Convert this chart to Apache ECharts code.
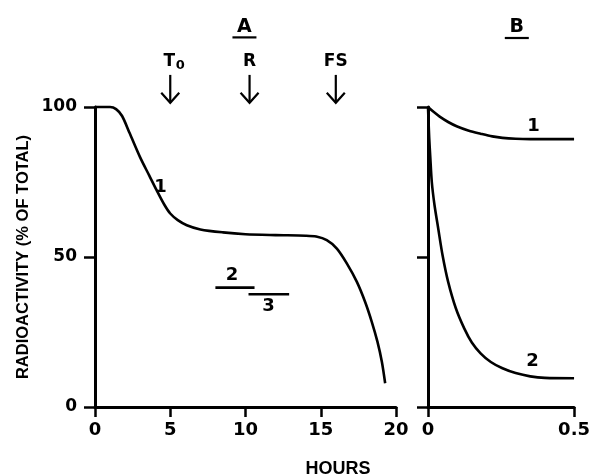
<!DOCTYPE html>
<html><head><meta charset="utf-8">
<script src="https://cdn.jsdelivr.net/npm/echarts@6/dist/echarts.min.js"></script>
<style>html,body{margin:0;padding:0;background:#fff}#c{width:593px;height:476px}</style>
</head><body><div id="c"></div>
<script>
// Panel A, curve 1
const a1Hours  = [0, 1.0, 1.4, 1.8, 2.3, 3.0, 3.6, 4.1, 4.6, 5.0, 5.5, 6.1, 7.0, 8.5, 10, 12, 14.0, 14.7, 15.4, 16.07, 16.74, 17.4, 17.95, 18.39, 18.77, 19.06, 19.28];
const a1Values = [100, 100, 99.3, 97, 91.3, 83.2, 77.2, 72.2, 67.5, 64.5, 62.3, 60.6, 59.2, 58.2, 57.6, 57.3, 57.1, 56.8, 55.6, 52.8, 47.8, 41.7, 35.0, 28.4, 21.7, 15.1, 7.9];
// Panel A, short bars 2 and 3
const a2Hours = [8.0, 10.6];
const a2Values = [39.8, 39.8];
const a3Hours = [10.2, 12.9];
const a3Values = [37.6, 37.6];
// Panel B, curves 1 and 2
const b1Hours  = [0, 0.02, 0.04, 0.069, 0.1, 0.14, 0.18, 0.22, 0.255, 0.3, 0.35, 0.5];
const b1Values = [100, 98.3, 96.8, 95.0, 93.5, 92.1, 91.1, 90.2, 89.7, 89.4, 89.3, 89.3];
const b2Hours  = [0, 0.004, 0.008, 0.013, 0.022, 0.035, 0.05, 0.069, 0.095, 0.124, 0.15, 0.18, 0.215, 0.255, 0.3, 0.35, 0.4, 0.5];
const b2Values = [100, 90, 83, 75, 67.5, 59.5, 50.5, 41.7, 33, 26.2, 21.5, 17.9, 15, 12.9, 11.3, 10.2, 9.7, 9.6];
// Ticks
const xTicksA = [0, 5, 10, 15, 20];
const xTicksB = [0, 0.5];
const yTicks = [0, 50, 100];
// Event arrows (panel A)
const eventNames = ['T', 'R', 'FS'];
const eventHours = [5, 10.27, 16];
// Curve labels
const labelsA = ['1', '2', '3'];
const labelsAHours = [4.35, 9.1, 11.53];
const labelsAValues = [73.3, 43.9, 33.4];
const labelsB = ['1', '2'];
const labelsBHours = [0.361, 0.358];
const labelsBValues = [93.4, 15.2];

const zip = (xs, ys) => xs.map((x, i) => [x, ys[i]]);
const FONT = 'DejaVu Sans';
const chart = echarts.init(document.getElementById('c'), null, {renderer: 'canvas'});

function xAxisCfg(grid, ticks, fmt) {
  return {
    type: 'value', gridIndex: grid, min: ticks[0], max: ticks[ticks.length - 1],
    interval: ticks[1] - ticks[0],
    axisLine: {show: true, onZero: false, lineStyle: {color: '#000', width: 3}},
    axisTick: {show: true, length: 10, lineStyle: {color: '#000', width: 2.5}},
    axisLabel: {show: true, color: '#000', fontFamily: FONT, fontWeight: 'bold', fontSize: 18, margin: 14, formatter: fmt},
    splitLine: {show: false}
  };
}
function yAxisCfg(grid, showLabels) {
  return {
    type: 'value', gridIndex: grid, min: yTicks[0], max: yTicks[yTicks.length - 1], interval: 50,
    axisLine: {show: true, onZero: false, lineStyle: {color: '#000', width: 3}},
    axisTick: {show: true, length: 11, lineStyle: {color: '#000', width: 2.5}},
    axisLabel: {show: showLabels, color: '#000', fontFamily: FONT, fontWeight: 'bold', fontSize: 17, margin: 18},
    splitLine: {show: false}
  };
}
const lineStyle = {color: '#000', width: 2.6};
function series(xi, data, smooth) {
  return {type: 'line', xAxisIndex: xi, yAxisIndex: xi, data: data, showSymbol: false, symbol: 'none',
    smooth: smooth, lineStyle: lineStyle, clip: false, silent: true, animation: false};
}

chart.setOption({
  animation: false,
  grid: [
    {left: 95, top: 107, width: 301, height: 300},
    {left: 428, top: 107, width: 150, height: 300}
  ],
  xAxis: [xAxisCfg(0, xTicksA, v => String(v)), xAxisCfg(1, xTicksB, v => String(v))],
  yAxis: [yAxisCfg(0, true), yAxisCfg(1, false)],
  series: [
    series(0, zip(a1Hours, a1Values), 0.3),
    series(0, zip(a2Hours, a2Values), false),
    series(0, zip(a3Hours, a3Values), false),
    series(1, zip(b1Hours, b1Values), 0.3),
    series(1, zip(b2Hours, b2Values), 0.3)
  ]
});

const px = (grid, x, y) => chart.convertToPixel({gridIndex: grid}, [x, y]);
const g = [];
const txt = (x, y, text, size, extra) => Object.assign({
  type: 'text', x: x, y: y,
  style: {text: text, fill: '#000', font: 'bold ' + size + 'px "' + FONT + '"', align: 'center', verticalAlign: 'middle'}
}, extra || {});
const line = (x1, y1, x2, y2, w) => ({type: 'line', shape: {x1, y1, x2, y2}, style: {stroke: '#000', lineWidth: w || 2}});

// Panel titles with underline
const titleA = px(0, 9.93, 126.7);
g.push(txt(titleA[0], titleA[1], 'A', 19));
g.push(line(titleA[0] - 12, titleA[1] + 10.5, titleA[0] + 12, titleA[1] + 10.5, 2.2));
const titleB = px(1, 0.304, 126.5);
g.push(txt(titleB[0], titleB[1], 'B', 19));
g.push(line(titleB[0] - 12, titleB[1] + 10.5, titleB[0] + 12, titleB[1] + 10.5, 2.2));

// Event arrows
eventNames.forEach((name, i) => {
  const top = px(0, eventHours[i], 110.7);
  const bot = px(0, eventHours[i], 101.4);
  const x = top[0];
  g.push(line(x, top[1], x, bot[1], 2.2));
  g.push({type: 'polyline', shape: {points: [[x - 9, bot[1] - 10], [x, bot[1]], [x + 9, bot[1] - 10]]}, style: {stroke: '#000', lineWidth: 2.2, fill: null}});
  if (name === 'T') {
    g.push(txt(x - 1, top[1] - 13, 'T', 17));
    g.push(txt(x + 10, top[1] - 9, '0', 13));
  } else {
    g.push(txt(x, top[1] - 13, name, 17));
  }
});

// Curve labels
labelsA.forEach((t, i) => { const p = px(0, labelsAHours[i], labelsAValues[i]); g.push(txt(p[0], p[1], t, 18)); });
labelsB.forEach((t, i) => { const p = px(1, labelsBHours[i], labelsBValues[i]); g.push(txt(p[0], p[1], t, 18)); });

// Axis titles
g.push({type: 'text', x: 23, y: 257, rotation: Math.PI / 2,
  style: {text: 'RADIOACTIVITY (% OF TOTAL)', fill: '#000', font: 'bold 16.5px "Liberation Sans"', align: 'center', verticalAlign: 'middle'}});
g.push({type: 'text', x: 338, y: 469,
  style: {text: 'HOURS', fill: '#000', font: 'bold 18px "Liberation Sans"', align: 'center', verticalAlign: 'middle'}});

chart.setOption({graphic: g});
</script></body></html>
